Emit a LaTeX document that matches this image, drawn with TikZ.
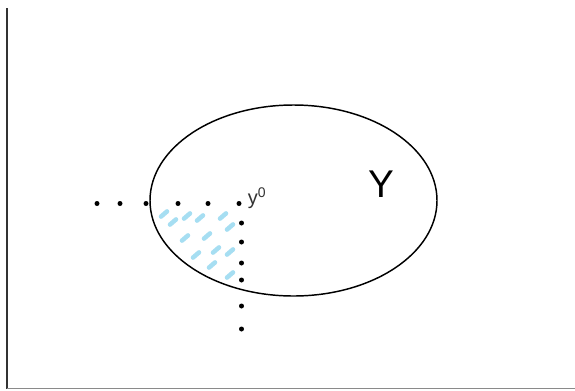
\documentclass[tikz,border=0pt]{standalone}
\usepackage{fontspec}
\setmainfont{Liberation Sans}
\begin{document}
\begin{tikzpicture}[x=0.75pt, y=-0.75pt]
    \definecolor{borderColour}{HTML}{000000}
    \definecolor{frameColour}{HTML}{8A8A8A}
    \definecolor{hatchColour}{HTML}{A6DEF2}
    \definecolor{labelColour}{HTML}{333333}
    \tikzset{
        pointdot/.style={fill=borderColour, draw=none},
        hatchmark/.style={hatchColour, line width=3.4pt, line cap=round}
    }

    \useasboundingbox (0,0) rectangle (575,390);

    % Draw frame
    \draw[borderColour!80, line width=1.6pt] (7,8) -- (7,389);
    \draw[frameColour, line width=1.2pt] (7,388.5) -- (575,388.5);

    % Hatched corner of Y
    \foreach \x/\y in {164/214, 173/222, 187/216, 200/218, 223/216, 230/227,
                       185/238, 207/236, 196/255, 216/250, 230/252, 212/265, 230/275}
        \draw[hatchmark] (\x-3,\y+2.6) -- (\x+3,\y-2.6);

    % Set Y
    \draw[borderColour, line width=1.1pt] (293.5,200.5) ellipse (143.5 and 95.5);
    \node[font=\fontsize{29}{30}\selectfont] (Ylabel) at (381,184.5) {Y};

    % Dotted lines through y0
    \coordinate (Y0) at (239,203.5);
    \foreach \x in {97,120,146,178,208}
        \fill[pointdot] (\x,203.5) circle (2.5);
    \fill[pointdot] (Y0) circle (2.5);
    \foreach \y in {223,242,263,280,306,329}
        \fill[pointdot] (241.5,\y) circle (2.5);
    \node[anchor=base west, inner sep=0pt, text=labelColour, font=\fontsize{15}{16}\selectfont]
        (y0label) at (247.5,204) {y\textsuperscript{0}};
\end{tikzpicture}
\end{document}
